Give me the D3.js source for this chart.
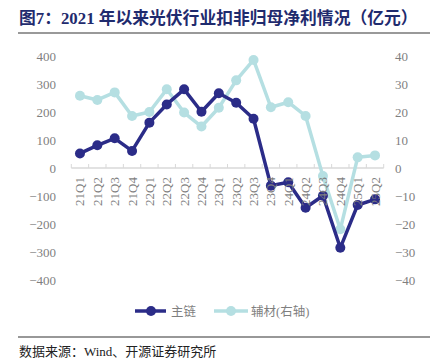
<!DOCTYPE html>
<html><head><meta charset="utf-8">
<script src="https://cdn.jsdelivr.net/npm/d3@7"></script>
<style>body{margin:0;background:#fff;} svg{display:block;}</style>
</head><body><svg id="c" width="442" height="363"></svg>
<script>
const categories = ["21Q1","21Q2","21Q3","21Q4","22Q1","22Q2","22Q3","22Q4","23Q1","23Q2","23Q3","23Q4","24Q1","24Q2","24Q3","24Q4","25Q1","25Q2"];
const mainChain = [52,81,106,61,162,227,281,201,267,233,176,-63,-51,-142,-99,-285,-132,-112];
const auxMaterial = [25.8,24.3,27.0,18.6,20.0,28.1,19.8,14.8,21.5,31.3,38.6,21.7,23.5,18.6,-2.9,-21.9,3.8,4.5];
const leftTicks = [400,300,200,100,0,-100,-200,-300,-400];
const rightTicks = [40,30,20,10,0,-10,-20,-30,-40];

const svg = d3.select("#c");
const serif = "'Liberation Serif','Times New Roman',serif";
const cjk = "'Liberation Serif','Noto Sans CJK SC',sans-serif";
const navy = "#2B2C88", teal = "#B5DFE2", gray = "#7f7f7f";

// title
svg.append("text").attr("x",19).attr("y",24).attr("fill","#1F2B6E")
  .attr("font-family",cjk).attr("font-weight","bold").attr("font-size",16.8)
  .text("图7：2021 年以来光伏行业扣非归母净利情况（亿元）");
svg.append("line").attr("x1",18).attr("x2",430).attr("y1",33).attr("y2",33)
  .attr("stroke","#777").attr("stroke-width",1.3);

const x = d3.scaleBand().domain(categories).range([71.3,383.7]);
const yL = d3.scaleLinear().domain([-400,400]).range([280,56]);
const yR = d3.scaleLinear().domain([-40,40]).range([280,56]);

const la = svg.append("g").attr("transform","translate(56,0)")
  .call(d3.axisLeft(yL).tickValues(leftTicks).tickSize(0).tickPadding(0));
la.select(".domain").remove();
la.selectAll("text").attr("font-family",serif).attr("font-size",13).attr("fill",gray);

const ra = svg.append("g").attr("transform","translate(395,0)")
  .call(d3.axisRight(yR).tickValues(rightTicks).tickSize(0).tickPadding(0));
ra.select(".domain").remove();
ra.selectAll("text").attr("font-family",serif).attr("font-size",13).attr("fill",gray);

const y0 = yL(0);
svg.append("line").attr("x1",71.3).attr("x2",383.7).attr("y1",y0).attr("y2",y0)
  .attr("stroke","#d9d9d9").attr("stroke-width",1.3);
const bounds = categories.map(c=>x(c)).concat([x.range()[1]]);
svg.selectAll(".tk").data(bounds).enter().append("line")
  .attr("x1",d=>d).attr("x2",d=>d).attr("y1",y0-4).attr("y2",y0)
  .attr("stroke","#d9d9d9").attr("stroke-width",1);

const cx = c => x(c)+x.bandwidth()/2;

const lineR = d3.line().x((d,i)=>cx(categories[i])).y(d=>yR(d));
svg.append("path").datum(auxMaterial).attr("d",lineR).attr("fill","none")
  .attr("stroke",teal).attr("stroke-width",3.5).attr("stroke-linejoin","round");
svg.selectAll(".pr").data(auxMaterial).enter().append("circle")
  .attr("cx",(d,i)=>cx(categories[i])).attr("cy",d=>yR(d)).attr("r",5).attr("fill",teal);

const lineL = d3.line().x((d,i)=>cx(categories[i])).y(d=>yL(d));
svg.append("path").datum(mainChain).attr("d",lineL).attr("fill","none")
  .attr("stroke",navy).attr("stroke-width",3.5).attr("stroke-linejoin","round");
svg.selectAll(".pl").data(mainChain).enter().append("circle")
  .attr("cx",(d,i)=>cx(categories[i])).attr("cy",d=>yL(d)).attr("r",5).attr("fill",navy);

svg.selectAll(".xl").data(categories).enter().append("text")
  .attr("transform",d=>`translate(${cx(d)+4.5},${y0+9}) rotate(-90)`)
  .attr("text-anchor","end").attr("font-family",serif).attr("font-size",13).attr("fill",gray)
  .text(d=>d);

const lg = svg.append("g");
lg.append("line").attr("x1",135).attr("x2",166).attr("y1",311).attr("y2",311).attr("stroke",navy).attr("stroke-width",3.5);
lg.append("circle").attr("cx",151).attr("cy",311).attr("r",5).attr("fill",navy);
lg.append("text").attr("x",171).attr("y",315.5).attr("font-family",cjk).attr("font-size",12.5).attr("fill",gray).text("主链");
lg.append("line").attr("x1",214).attr("x2",248).attr("y1",311).attr("y2",311).attr("stroke",teal).attr("stroke-width",3.5);
lg.append("circle").attr("cx",231).attr("cy",311).attr("r",5).attr("fill",teal);
lg.append("text").attr("x",251).attr("y",315.5).attr("font-family",cjk).attr("font-size",12.5).attr("fill",gray).text("辅材(右轴)");

svg.append("line").attr("x1",18).attr("x2",430).attr("y1",337).attr("y2",337).attr("stroke","#333").attr("stroke-width",1.2);
svg.append("text").attr("x",19).attr("y",356).attr("font-family",cjk).attr("font-size",13).attr("fill","#222")
  .text("数据来源：Wind、开源证券研究所");
</script></body></html>
